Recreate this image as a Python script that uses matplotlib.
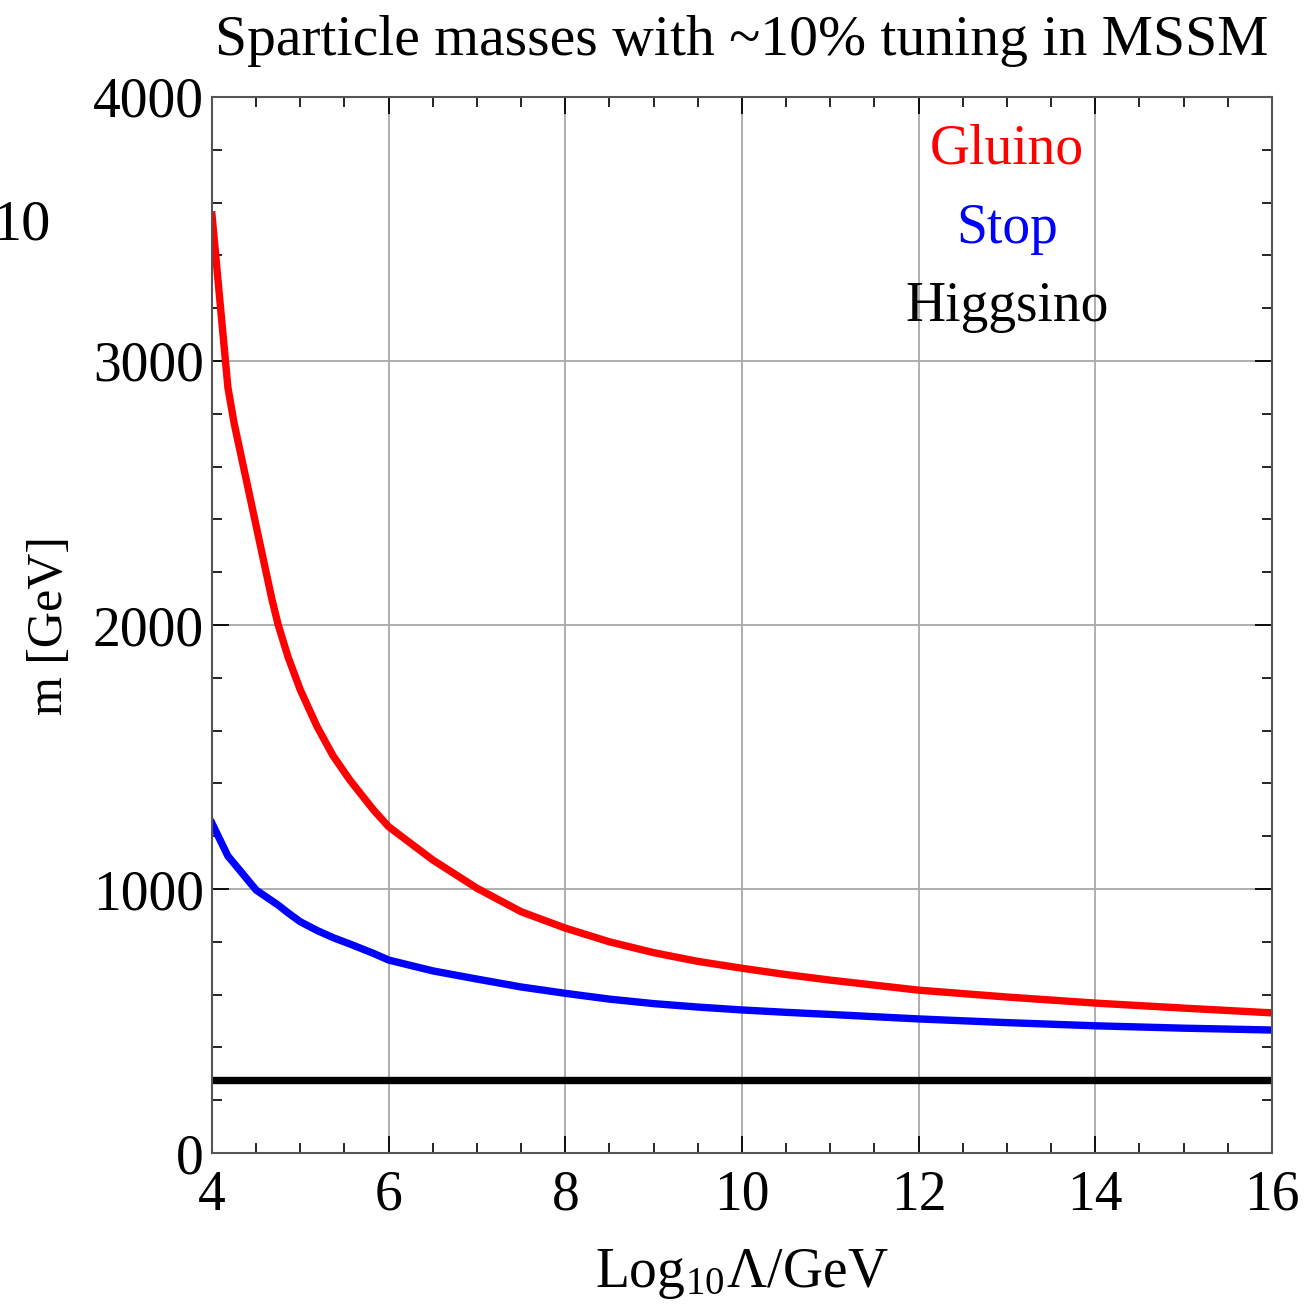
import matplotlib
matplotlib.use("Agg")
import matplotlib.pyplot as plt
from matplotlib.ticker import MultipleLocator

# data
log_lambda = [4.0, 4.1, 4.18, 4.25, 4.5, 4.68, 4.75, 4.86, 5.0, 5.19, 5.37, 5.56, 5.83,
              6.0, 6.5, 7.0, 7.5, 8.0, 8.5, 9.0, 9.5, 10.0, 10.5, 11.0, 12.0,
              13.0, 14.0, 15.0, 16.0]
gluino = [3553, 3190, 2900, 2765, 2375, 2095, 2000, 1880, 1754, 1615, 1505, 1413, 1299,
          1236, 1110, 1003, 914, 852, 800, 759, 726, 700, 676, 655, 617,
          591, 568, 549, 531]
stop = [1249, 1180, 1125, 1097, 996, 955, 939, 910, 876, 843, 816, 792, 756,
        731, 690, 659, 629, 605, 583, 566, 553, 542, 533, 525, 508,
        494, 482, 473, 466]
higgsino = [277] * len(log_lambda)

labels = ["Gluino", "Stop", "Higgsino"]
colors = ["red", "blue", "black"]

plt.rcParams['font.family'] = ['Liberation Serif', 'DejaVu Serif']
plt.rcParams['mathtext.fontset'] = 'stix'

fig = plt.figure(figsize=(13.07, 13.10), dpi=100)
ax = fig.add_axes([0.1622, 0.1198, 0.8110, 0.8062])

for ys, c in zip([gluino, stop, higgsino], colors):
    ax.plot(log_lambda, ys, color=c, lw=5.3, solid_joinstyle='round')

ax.set_xlim(4, 16)
ax.set_ylim(0, 4000)
ax.xaxis.set_major_locator(MultipleLocator(2))
ax.xaxis.set_minor_locator(MultipleLocator(0.5))
ax.yaxis.set_major_locator(MultipleLocator(1000))
ax.yaxis.set_minor_locator(MultipleLocator(200))
ax.grid(True, which='major', color='#a8a8a8', lw=1.3)
ax.tick_params(which='both', direction='in', top=True, right=True, labelsize=40, color='black')
ax.tick_params(which='major', length=12, width=1.3)
ax.tick_params(which='minor', length=7, width=1.2)
ax.tick_params(axis='x', pad=12)
ax.tick_params(axis='y', pad=6)
for s in ax.spines.values():
    s.set_color('#555555')
    s.set_linewidth(1.5)

ax.set_xlabel(r'Log$_{\mathregular{10}}$Λ/GeV', fontsize=40, labelpad=18)
ax.set_ylabel('m [GeV]', fontsize=36, labelpad=14)
ax.set_title('Sparticle masses with ~10% tuning in MSSM', fontsize=41.5, pad=30)

for lab, c, y in zip(labels, colors, [3800, 3500, 3205]):
    ax.text(13.0, y, lab, color=c, fontsize=40, ha='center', va='center')

# stray clipped label at the left edge
fig.text(0.039, 0.828, '10', fontsize=42, ha='right', va='center')

fig.savefig("out.png", dpi=100)
